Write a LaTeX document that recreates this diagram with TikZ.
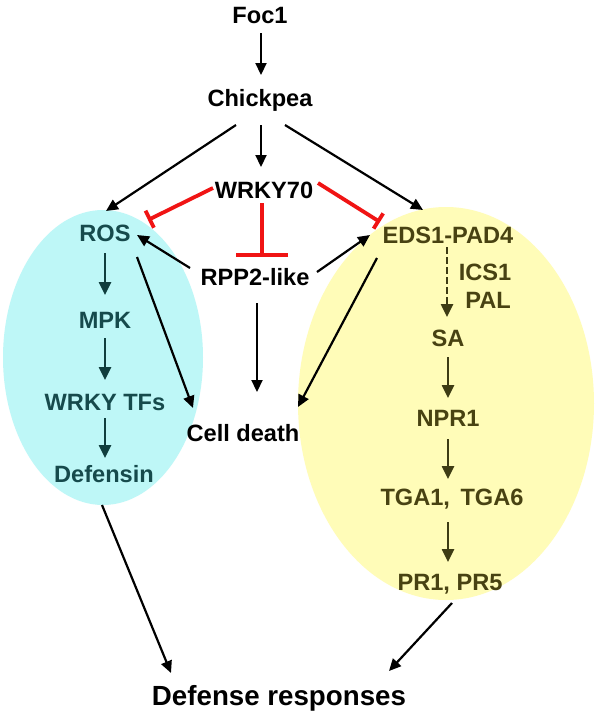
\documentclass[tikz,border=0pt]{standalone}
\usepackage{fontspec}
\setmainfont{Liberation Sans}
\usetikzlibrary{arrows.meta}
\definecolor{cyanfill}{RGB}{190,247,247}
\definecolor{yelfill}{RGB}{255,252,184}
\definecolor{tealtxt}{RGB}{22,74,76}
\definecolor{tealarr}{RGB}{16,62,62}
\definecolor{olivetxt}{RGB}{72,66,18}
\definecolor{olivearr}{RGB}{62,60,20}
\definecolor{inhred}{RGB}{240,20,20}
\tikzset{
  lbl/.style={font=\fontsize{23.6}{28}\selectfont\bfseries, inner sep=0pt, text height=17pt, text depth=0pt},
  biglbl/.style={font=\fontsize{27.7}{32}\selectfont\bfseries, inner sep=0pt, text height=20pt, text depth=0pt},
  tlbl/.style={lbl, text=tealtxt},
  ylbl/.style={lbl, text=olivetxt},
  arr/.style={line width=2.2pt, -{Triangle[length=12pt,width=11pt]}},
  tarr/.style={arr, draw=tealarr, line width=2.5pt, -{Triangle[length=13pt,width=12pt]}},
  yarr/.style={arr, draw=olivearr, line width=2.5pt, -{Triangle[length=13pt,width=12pt]}},
  inh/.style={draw=inhred, line width=3.8pt},
}
\begin{document}
\begin{tikzpicture}[x=1pt,y=-1pt]
\useasboundingbox (0,0) rectangle (596,713);
\fill[white] (0,0) rectangle (596,713);
% compartments
\fill[cyanfill] (103,357.5) ellipse [x radius=100, y radius=147.5];
\fill[yelfill] (446,403.5) ellipse [x radius=148, y radius=196.5];
% nodes
\node[lbl] (foc) at (260,15) {Foc1};
\node[lbl] (chick) at (260,98) {Chickpea};
\node[lbl] (wrky) at (264,190) {WRKY70};
\node[tlbl] (ros) at (105,233) {ROS};
\node[tlbl] (mpk) at (105,320) {MPK};
\node[tlbl] (tfs) at (105,402) {WRKY TFs};
\node[tlbl] (def) at (104,474) {Defensin};
\node[lbl] (rpp) at (255,277) {RPP2-like};
\node[lbl] (cell) at (243,433) {Cell death};
\node[ylbl] (eds) at (448,235) {EDS1-PAD4};
\node[ylbl] (ics) at (485,272) {ICS1};
\node[ylbl] (pal) at (488,300) {PAL};
\node[ylbl] (sa) at (448,338) {SA};
\node[ylbl] (npr) at (448,418) {NPR1};
\node[ylbl] (tga) at (452,497) {TGA1,\, TGA6};
\node[ylbl] (pr) at (450,582) {PR1, PR5};
\node[biglbl] (resp) at (279,695) {Defense responses};
% black arrows
\draw[arr] ([shift={(1,18)}]foc.center) -- ([shift={(1,-23)}]chick.center);
\draw[arr] ([shift={(-24,27)}]chick.center) -- ([shift={(1,-22)}]ros.center);
\draw[arr] ([shift={(1,27)}]chick.center) -- ([shift={(-3,-23)}]wrky.center);
\draw[arr] ([shift={(25,27)}]chick.center) -- ([shift={(-25,-25)}]eds.center);
\draw[arr] ([shift={(-65,-9)}]rpp.center) -- ([shift={(32,2)}]ros.center);
\draw[arr] ([shift={(62,-5)}]rpp.center) -- ([shift={(-78,0)}]eds.center);
\draw[arr] ([shift={(2,26)}]rpp.center) -- ([shift={(14,-41)}]cell.center);
\draw[arr] ([shift={(32,24)}]ros.center) -- ([shift={(-50,-25)}]cell.center);
\draw[arr] ([shift={(-71,23)}]eds.center) -- ([shift={(55,-26)}]cell.center);
\draw[arr] ([shift={(-2,31)}]def.center) -- ([shift={(-108,-22)}]resp.center);
\draw[arr] ([shift={(2,21)}]pr.center) -- ([shift={(110,-24)}]resp.center);
% inhibitions
\draw[inh, -{Bar[width=19pt]}] ([shift={(-51,-2)}]wrky.center) -- ([shift={(43,-13)}]ros.center);
\draw[inh, -{Bar[width=52pt]}] ([shift={(-2,13)}]wrky.center) -- ([shift={(7,-20)}]rpp.center);
\draw[inh, -{Bar[width=18pt]}] ([shift={(54,-7)}]wrky.center) -- ([shift={(-68,-13)}]eds.center);
% ROS pathway
\draw[tarr] ([shift={(0,20)}]ros.center) -- ([shift={(0,-25)}]mpk.center);
\draw[tarr] ([shift={(0,18)}]mpk.center) -- ([shift={(0,-22)}]tfs.center);
\draw[tarr] ([shift={(0,16)}]tfs.center) -- ([shift={(1,-16)}]def.center);
% SA pathway
\draw[yarr, dash pattern=on 7pt off 3pt] ([shift={(-1,12)}]eds.center) -- ([shift={(-1,-21)}]sa.center);
\draw[yarr] ([shift={(0,19)}]sa.center) -- ([shift={(0,-20)}]npr.center);
\draw[yarr] ([shift={(0,21)}]npr.center) -- ([shift={(-4,-18)}]tga.center);
\draw[yarr] ([shift={(-4,25)}]tga.center) -- ([shift={(-2,-20)}]pr.center);
\end{tikzpicture}
\end{document}
